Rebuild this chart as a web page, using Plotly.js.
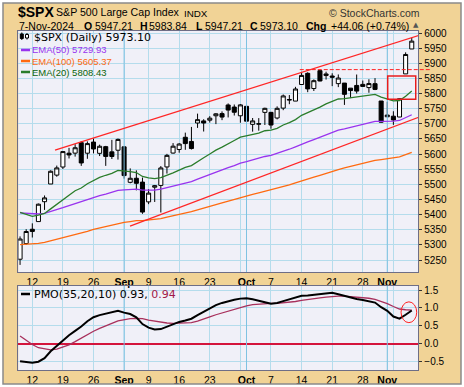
<!DOCTYPE html>
<html><head><meta charset="utf-8">
<script src="https://cdn.plot.ly/plotly-3.0.1.min.js"></script>
<style>html,body{margin:0;padding:0;background:#fff;}#chart{width:464px;height:387px;}</style>
</head><body><div id="chart"></div>
<script>
// ---------- data ----------
const dates = ['2024-08-08','2024-08-09',
'2024-08-12','2024-08-13','2024-08-14','2024-08-15','2024-08-16',
'2024-08-19','2024-08-20','2024-08-21','2024-08-22','2024-08-23',
'2024-08-26','2024-08-27','2024-08-28','2024-08-29','2024-08-30',
'2024-09-03','2024-09-04','2024-09-05','2024-09-06',
'2024-09-09','2024-09-10','2024-09-11','2024-09-12','2024-09-13',
'2024-09-16','2024-09-17','2024-09-18','2024-09-19','2024-09-20',
'2024-09-23','2024-09-24','2024-09-25','2024-09-26','2024-09-27',
'2024-09-30','2024-10-01','2024-10-02','2024-10-03','2024-10-04',
'2024-10-07','2024-10-08','2024-10-09','2024-10-10','2024-10-11',
'2024-10-14','2024-10-15','2024-10-16','2024-10-17','2024-10-18',
'2024-10-21','2024-10-22','2024-10-23','2024-10-24','2024-10-25',
'2024-10-28','2024-10-29','2024-10-30','2024-10-31','2024-11-01',
'2024-11-04','2024-11-05','2024-11-06','2024-11-07'];

const opens = [5252.57,5304.35,
5351.59,5376.98,5442.64,5501.13,5530.50,
5557.23,5602.88,5603.09,5637.77,5602.89,
5639.66,5602.41,5624.51,5607.30,5612.74,
5623.89,5506.68,5520.08,5507.33,
5442.07,5490.51,5496.42,5557.48,5603.34,
5615.21,5655.51,5641.68,5702.63,5709.51,
5711.90,5726.52,5733.65,5762.22,5755.36,
5726.52,5757.73,5698.19,5698.93,5737.80,
5737.80,5719.14,5751.80,5778.36,5775.09,
5829.81,5866.74,5816.58,5875.62,5859.43,
5857.82,5832.74,5834.50,5817.80,5826.75,
5830.20,5819.68,5832.56,5775.34,5723.22,
5725.15,5722.43,5864.89,5947.21];

const highs = [5328.03,5351.88,
5371.20,5436.50,5463.22,5546.23,5561.98,
5608.30,5620.51,5632.68,5643.22,5641.82,
5651.62,5631.18,5627.03,5646.95,5651.37,
5623.89,5552.74,5546.30,5522.47,
5484.20,5497.91,5560.41,5600.71,5636.27,
5636.05,5670.81,5689.75,5733.57,5715.14,
5725.36,5735.32,5741.03,5767.37,5763.78,
5765.14,5757.73,5719.14,5718.78,5753.22,
5739.34,5757.60,5796.80,5795.03,5822.13,
5871.41,5870.36,5846.52,5878.46,5872.17,
5866.92,5863.04,5834.85,5817.80,5862.82,
5842.92,5847.19,5850.94,5775.34,5772.99,
5741.43,5783.44,5936.14,5983.84];

const lows = [5233.85,5300.43,
5324.37,5376.98,5415.49,5501.13,5525.17,
5550.74,5585.50,5591.57,5560.95,5584.37,
5602.34,5593.48,5560.95,5583.71,5581.79,
5518.90,5503.41,5480.05,5402.62,
5434.49,5441.72,5406.96,5535.50,5601.65,
5604.53,5614.05,5615.08,5686.42,5674.49,
5704.22,5698.99,5712.06,5721.01,5727.34,
5703.53,5681.28,5674.00,5677.36,5696.14,
5683.74,5714.56,5745.02,5764.76,5775.09,
5829.81,5804.48,5808.34,5840.25,5846.11,
5824.44,5821.17,5762.41,5784.92,5799.98,
5823.08,5802.64,5811.28,5703.88,5723.22,
5696.51,5722.10,5864.89,5947.21];

const closes = [5319.31,5344.16,
5344.39,5434.43,5455.21,5543.22,5554.25,
5608.25,5597.12,5620.85,5570.64,5634.61,
5616.84,5625.80,5592.18,5591.96,5648.40,
5528.93,5520.07,5503.41,5408.42,
5471.05,5495.52,5554.13,5595.76,5626.02,
5633.09,5634.58,5618.26,5713.64,5702.55,
5718.57,5732.93,5722.26,5745.37,5738.17,
5762.48,5708.75,5709.54,5699.94,5751.07,
5695.94,5751.13,5792.04,5780.05,5815.03,
5859.85,5815.26,5842.47,5841.47,5864.67,
5853.98,5851.20,5797.42,5809.86,5808.12,
5823.52,5832.92,5813.67,5705.45,5728.80,
5712.69,5782.76,5929.04,5973.10];

const ema20 = [5407,5400,5394,5398,5404,5419,5433,5450,5464,5479,5488,5502,5513,5523,5530,5536,5546,
5545,5542,5539,5526,5521,5519,5522,5529,5538,5547,5556,5562,5576,5588,5600,5613,5623,5635,5645,
5656,5661,5666,5669,5677,5679,5685,5696,5704,5714,5728,5736,5746,5755,5766,5774,5782,5783,5786,5788,
5791,5795,5797,5788,5782,5776,5777,5791,5808.43];

const ema50 = [5406,5404,5402,5402,5404,5410,5415,5423,5430,5437,5442,5450,5457,5463,5468,5473,5480,
5482,5483,5484,5481,5481,5481,5484,5489,5494,5500,5505,5509,5517,5525,5532,5540,5547,5555,5562,
5570,5575,5581,5585,5592,5596,5602,5610,5616,5624,5633,5640,5648,5656,5664,5671,5679,5683,5688,5693,
5698,5703,5708,5708,5708,5709,5711,5720,5729.93];

const ema100 = [5301,5302,5303,5305,5308,5313,5318,5324,5329,5335,5340,5345,5351,5356,5361,5365,5371,
5374,5377,5380,5380,5382,5384,5387,5392,5396,5401,5405,5410,5416,5421,5427,5433,5439,5445,5451,
5457,5462,5467,5472,5477,5481,5487,5493,5498,5505,5512,5518,5524,5530,5537,5543,5549,5554,5559,5564,
5569,5575,5579,5582,5585,5587,5591,5598,5605.37];

const pmo = [-0.49,-0.52,-0.53,-0.50,-0.40,-0.21,-0.06,0.10,0.24,0.36,0.48,0.63,0.74,0.80,0.84,0.87,0.92,
0.87,0.83,0.74,0.55,0.45,0.40,0.41,0.48,0.55,0.61,0.65,0.70,0.80,0.90,1.00,1.08,1.14,1.19,1.23,
1.26,1.27,1.24,1.19,1.16,1.12,1.14,1.19,1.24,1.30,1.34,1.35,1.37,1.39,1.40,1.42,1.38,1.33,1.29,1.25,
1.22,1.19,1.15,1.02,0.92,0.76,0.70,0.81,0.93];

const pmoSignal = [0.22,0.10,-0.02,-0.11,-0.15,-0.17,-0.15,-0.10,-0.03,0.06,0.16,0.26,0.35,0.43,0.51,0.57,0.64,
0.68,0.70,0.71,0.70,0.66,0.63,0.60,0.58,0.57,0.57,0.58,0.59,0.63,0.68,0.75,0.81,0.86,0.91,0.97,
1.02,1.06,1.09,1.11,1.12,1.13,1.13,1.14,1.15,1.18,1.21,1.24,1.26,1.28,1.30,1.32,1.33,1.33,1.32,1.31,
1.29,1.27,1.24,1.19,1.12,1.04,0.97,0.95,0.94];

const tickDates  = ['2024-08-12','2024-08-19','2024-08-26','2024-09-03','2024-09-09','2024-09-16','2024-09-23','2024-09-30','2024-10-01','2024-10-07','2024-10-14','2024-10-21','2024-10-28','2024-11-01','2024-11-04'];
const tickLabels = ['12','19','26','<b>Sep</b>','9','16','23','','<b>Oct</b>','7','14','21','28','<b>Nov</b>',''];
const monthStarts = ['2024-09-03','2024-10-01','2024-11-01'];

// annotation drawings (trading-day index, price)
const upperTrendX = [5.71, 65.6],  upperTrendY = [5613, 5995];
const lowerTrendX = [17.97, 65.6], lowerTrendY = [5362, 5725];
const resistStartX = 45.7, resistLevel = 5879;
const boxX = [60.07, 64.65], boxY = [5781, 5858];
const circX = [62.25, 64.81], circY = [0.59, 1.17];

// ---------- layout helpers ----------
const W = 464, H = 387;
const px = v => v / W, py = v => 1 - v / H;
const xr = [-0.288, 65.07];
const yr = [5209.4, 6006.6];
const y2r = [-0.731, 1.612];
const xdom = [px(18.3), px(418.3)];
const x2paper = i => xdom[0] + (i - xr[0]) / (xr[1] - xr[0]) * (xdom[1] - xdom[0]);
const idx = dates.map((d, i) => i);
const pos = d => dates.indexOf(d);

const AR = 'Arial, "Liberation Sans", sans-serif';
const DJ = '"DejaVu Sans", Verdana, sans-serif';
const TAN = '#f1d396', GRID = '#b4dcec', MONTH = '#7fc2e2', FRAME = '#6e6e86';
const PURPLE = '#9933ee', ORANGE = '#ff6a10', GREEN = '#2b7d2b', MAROON = '#a8305c';

const traces = [];
monthStarts.forEach(d => {
  traces.push({type:'scatter', mode:'lines', x:[pos(d), pos(d)], y:yr, line:{color:MONTH, width:1}, hoverinfo:'skip', xaxis:'x', yaxis:'y'});
  traces.push({type:'scatter', mode:'lines', x:[pos(d), pos(d)], y:y2r, line:{color:MONTH, width:1}, hoverinfo:'skip', xaxis:'x2', yaxis:'y2'});
});
traces.push(
  {type:'scatter', mode:'lines', x:idx, y:ema100, line:{color:ORANGE, width:1.3}, hoverinfo:'skip', xaxis:'x', yaxis:'y'},
  {type:'scatter', mode:'lines', x:idx, y:ema50, line:{color:PURPLE, width:1.3}, hoverinfo:'skip', xaxis:'x', yaxis:'y'},
  {type:'scatter', mode:'lines', x:idx, y:ema20, line:{color:GREEN, width:1.3}, hoverinfo:'skip', xaxis:'x', yaxis:'y'},
  {type:'scatter', mode:'lines', x:upperTrendX, y:upperTrendY, line:{color:'#ff2626', width:1.2}, hoverinfo:'skip', xaxis:'x', yaxis:'y'},
  {type:'scatter', mode:'lines', x:lowerTrendX, y:lowerTrendY, line:{color:'#ff2626', width:1.2}, hoverinfo:'skip', xaxis:'x', yaxis:'y'},
  {type:'candlestick', x:idx, open:opens, high:highs, low:lows, close:closes,
   increasing:{line:{color:'#000', width:1}, fillcolor:'#ffffff'},
   decreasing:{line:{color:'#000', width:1}, fillcolor:'#000000'},
   whiskerwidth:0, hoverinfo:'skip', xaxis:'x', yaxis:'y'},
  {type:'scatter', mode:'lines', x:idx, y:pmoSignal, line:{color:MAROON, width:1.3}, hoverinfo:'skip', xaxis:'x2', yaxis:'y2'},
  {type:'scatter', mode:'lines', x:idx, y:pmo, line:{color:'#000', width:2}, hoverinfo:'skip', xaxis:'x2', yaxis:'y2'}
);

const shapes = [];
// white outer margin and grey frame of the chart image
[[0,0,464,3],[0,384,464,387],[0,0,3,387],[461,0,464,387]].forEach(([a,b,c,d]) => {
  shapes.push({type:'rect', xref:'paper', yref:'paper', x0:px(a), x1:px(c), y0:py(d), y1:py(b), fillcolor:'#ffffff', line:{width:0}, layer:'above'});
});
shapes.push({type:'rect', xref:'paper', yref:'paper', x0:px(3), x1:px(461), y0:py(384), y1:py(3), line:{color:'#8a8a8a', width:1.5}, layer:'above'});
shapes.push({type:'line', xref:'paper', yref:'y', x0:x2paper(resistStartX), x1:px(431.7), y0:resistLevel, y1:resistLevel, line:{color:'#ff2020', width:1, dash:'4px,2px'}});
shapes.push({type:'rect', xref:'x', yref:'y', x0:boxX[0], x1:boxX[1], y0:boxY[0], y1:boxY[1], line:{color:'#e81c1c', width:1.5}});
shapes.push({type:'circle', xref:'x2', yref:'y2', x0:circX[0], x1:circX[1], y0:circY[0], y1:circY[1], line:{color:'#ff2020', width:1}});
// legend swatches
[[50, PURPLE],[61, ORANGE],[72, GREEN],[294,'#000']].forEach(([yy,c]) => {
  shapes.push({type:'line', xref:'paper', yref:'paper', x0:px(21), x1:px(30), y0:py(yy), y1:py(yy), line:{color:c, width:2.5}});
});
// tiny candle icon
shapes.push({type:'line', xref:'paper', yref:'paper', x0:px(21.8), x1:px(21.8), y0:py(32.5), y1:py(40), line:{color:'#000', width:1}});
shapes.push({type:'rect', xref:'paper', yref:'paper', x0:px(20.3), x1:px(23.3), y0:py(34), y1:py(38.5), fillcolor:'#000', line:{color:'#000', width:1}});
shapes.push({type:'line', xref:'paper', yref:'paper', x0:px(27), x1:px(27), y0:py(33), y1:py(39.5), line:{color:'#000', width:1}});
shapes.push({type:'rect', xref:'paper', yref:'paper', x0:px(25.5), x1:px(28.5), y0:py(34.5), y1:py(38), fillcolor:'#fff', line:{color:'#000', width:1}});

function ann(text, x, y, size, opts) {
  return Object.assign({text, x:px(x), y:py(y), xref:'paper', yref:'paper', xanchor:'left', yanchor:'middle',
    showarrow:false, borderpad:0, font:{family:AR, size, color:'#000'}}, opts || {});
}
const annotations = [
  ann('<b>$SPX</b>', 17, 12, 14),
  ann('S&P 500 Large Cap Index', 54.5, 12.5, 10.6),
  ann('INDX', 183, 13, 9.8),
  ann('© StockCharts.com', 327.5, 13, 10.5, {font:{family:AR, size:10.5, color:'#333'}}),
  ann('7-Nov-2024', 17.5, 25.5, 10.5),
  ann('<b>O</b>', 82.5, 25.5, 10.5), ann('5947.21', 93.5, 25.5, 10.5),
  ann('<b>H</b>', 138.5, 25.5, 10.5), ann('5983.84', 147.5, 25.5, 10.5),
  ann('<b>L</b>', 194.5, 25.5, 10.5), ann('5947.21', 203.5, 25.5, 10.5),
  ann('<b>C</b>', 248.5, 25.5, 10.5), ann('5973.10', 259, 25.5, 10.5),
  ann('<b>Chg</b>', 304.5, 25.5, 10.5), ann('+44.06 (+0.74%)', 329.5, 25.5, 10.5),
  ann('▲', 411.5, 25, 7, {font:{family:DJ, size:7, color:'#555'}}),
  ann('$SPX (Daily) 5973.10', 32.5, 37.5, 11, {font:{family:DJ, size:11, color:'#000'}}),
  ann('EMA(50) 5729.93', 31.2, 50, 9.5, {font:{family:AR, size:9.5, color:PURPLE}}),
  ann('EMA(100) 5605.37', 31.2, 61, 9.5, {font:{family:AR, size:9.5, color:ORANGE}}),
  ann('EMA(20) 5808.43', 31.2, 72, 9.5, {font:{family:AR, size:9.5, color:'#0a640a'}}),
  ann('PMO(35,20,10) 0.93, <span style="color:#a01848">0.94</span>', 32.8, 294, 11, {font:{family:DJ, size:11, color:'#000'}})
];

const tickvals = tickDates.map(pos);
const xbase = {range:xr, domain:xdom, tickmode:'array', tickvals, ticktext:tickLabels, ticks:'',
  showgrid:true, gridcolor:GRID, gridwidth:1, zeroline:false, showline:true, linecolor:FRAME, linewidth:1, mirror:true,
  tickfont:{family:AR, size:10.5, color:'#000'}, fixedrange:true};
const layout = {
  width:W, height:H, margin:{l:0, r:0, t:0, b:0, pad:0},
  paper_bgcolor:TAN, plot_bgcolor:'#f0f0f8', showlegend:false,
  boxgap:0.34, boxgroupgap:0,
  xaxis: Object.assign({}, xbase, {anchor:'y', rangeslider:{visible:false}}),
  xaxis2: Object.assign({}, xbase, {anchor:'y2'}),
  yaxis: {domain:[py(272.3), py(31)], range:yr, side:'right', anchor:'x', dtick:50, tick0:0, tickformat:'d',
    ticks:'outside', ticklen:3, tickcolor:'#333', showgrid:true, gridcolor:GRID, gridwidth:1, zeroline:false,
    showline:true, linecolor:FRAME, linewidth:1, mirror:true, tickfont:{family:AR, size:10, color:'#000'}, fixedrange:true},
  yaxis2: {domain:[py(370), py(286)], range:y2r, side:'right', anchor:'x2', dtick:0.5, tick0:0, tickformat:'.1f',
    ticks:'outside', ticklen:3, tickcolor:'#333', showgrid:true, gridcolor:GRID, gridwidth:1,
    zeroline:true, zerolinecolor:'#d4143c', zerolinewidth:1.5,
    showline:true, linecolor:FRAME, linewidth:1, mirror:true, tickfont:{family:AR, size:10, color:'#000'}, fixedrange:true},
  shapes, annotations
};
Plotly.newPlot('chart', traces, layout, {staticPlot:true, displayModeBar:false});
</script></body></html>
